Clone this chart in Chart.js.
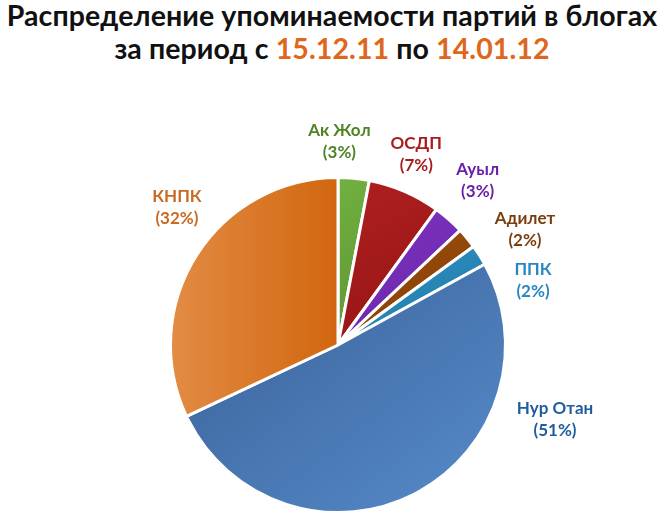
<!DOCTYPE html>
<html><head><meta charset="utf-8">
<script src="https://cdn.jsdelivr.net/npm/chart.js@4.4.0/dist/chart.umd.min.js"></script>
<style>
html,body{margin:0;padding:0;background:#fff;width:664px;height:522px;overflow:hidden}
#wrap{position:relative;width:664px;height:522px}
#title{position:absolute;left:0;top:0;width:664px;text-align:center;font-family:Lato,"Open Sans",sans-serif;font-weight:bold;font-size:28.5px;line-height:33px;color:#111;margin-top:-1px;letter-spacing:0.1px}
#title .d{color:#e0661a}
canvas{position:absolute;left:0;top:0}
</style></head><body>
<div id="wrap">
<div id="title">Распределение упоминаемости партий в блогах<br>за период с <span class="d">15.12.11</span> по <span class="d">14.01.12</span></div>
<canvas id="c" width="664" height="522"></canvas>
</div>
<script>
const categories = ["Ак Жол","ОСДП","Ауыл","Адилет","ППК","Нур Отан","КНПК"];
const values = [3,7,3,2,2,51,32];
const percentLabels = ["(3%)","(7%)","(3%)","(2%)","(2%)","(51%)","(32%)"];

const sliceLight = ["#72b041","#b02020","#8236c8","#a45410","#3399c8","#5286c4","#e28c45"];
const sliceDark  = ["#5a9230","#961414","#6a26a8","#884006","#237fae","#3f689f","#d2660f"];
const labelColors = ["#4e8424","#a81c1c","#6a1fa8","#7a3e0e","#2a86c2","#1f5d9c","#c96a22"];
// label placement: angle offset (deg) from slice middle, distance beyond outer radius
const labelAngleAdj = [-5,-1,-1,8,14,-44,8];
const labelDist = [36,38,48,52,38,62,44];

const labelPlugin = {
  id:'outerLabels',
  afterDatasetsDraw(chart){
    const ctx = chart.ctx;
    const meta = chart.getDatasetMeta(0);
    ctx.save();
    ctx.font = 'bold 17px Lato, "Open Sans", sans-serif';
    ctx.textAlign = 'center';
    ctx.textBaseline = 'middle';
    meta.data.forEach((arc,i)=>{
      const p = arc.getProps(['x','y','startAngle','endAngle','outerRadius'],true);
      const mid = (p.startAngle+p.endAngle)/2 + labelAngleAdj[i]*Math.PI/180;
      const r = p.outerRadius + labelDist[i];
      const x = p.x + Math.cos(mid)*r;
      const y = p.y + Math.sin(mid)*r;
      ctx.fillStyle = labelColors[i];
      ctx.fillText(categories[i], x, y-11);
      ctx.fillText(percentLabels[i], x, y+11);
    });
    ctx.restore();
  }
};

function grad(context){
  const chart = context.chart;
  const a = chart.chartArea;
  if(!a) return sliceLight[context.dataIndex];
  const i = context.dataIndex;
  const cx=(a.left+a.right)/2, cy=(a.top+a.bottom)/2, r=(a.bottom-a.top)/2;
  let g;
  if(i===6){ g = chart.ctx.createLinearGradient(cx-r,cy,cx,cy); g.addColorStop(0,sliceLight[i]); g.addColorStop(1,sliceDark[i]); }
  else if(i===5){ g = chart.ctx.createLinearGradient(cx-r*0.5,cy-r*0.3,cx+r*0.5,cy+r); g.addColorStop(0,sliceDark[i]); g.addColorStop(1,sliceLight[i]); }
  else { g = chart.ctx.createLinearGradient(cx,cy-r,cx+r*0.5,cy); g.addColorStop(0,sliceLight[i]); g.addColorStop(1,sliceDark[i]); }
  return g;
}

new Chart(document.getElementById('c'),{
  type:'pie',
  data:{labels:categories,datasets:[{data:values,backgroundColor:grad,borderColor:'#ffffff',borderWidth:3}]},
  options:{
    responsive:false,animation:false,
    layout:{padding:{top:176,bottom:8,left:12,right:0}},
    plugins:{legend:{display:false},tooltip:{enabled:false},title:{display:false}}
  },
  plugins:[labelPlugin]
});
</script>
</body></html>
